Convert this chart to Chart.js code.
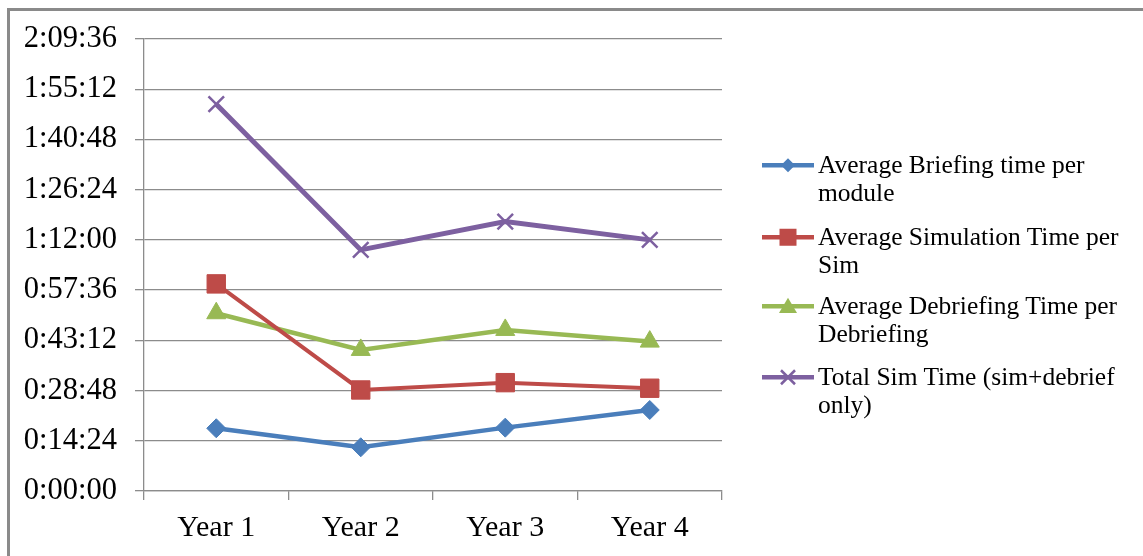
<!DOCTYPE html>
<html>
<head>
<meta charset="utf-8">
<script src="https://cdn.jsdelivr.net/npm/chart.js@4.4.3/dist/chart.umd.min.js"></script>
<style>
    html, body { margin: 0; padding: 0; background: #fff; }
    #wrap { position: relative; width: 1143px; height: 556px; overflow: hidden; }
    #frame {
        position: absolute; left: 7px; top: 8px; width: 1200px; height: 600px;
        border-top: 3px solid #8a8a8a; border-left: 3px solid #8a8a8a;
        box-sizing: border-box;
    }
    #chart { position: absolute; left: 0; top: 0; }
    .legend-item {
        position: absolute; left: 762px; display: flex; align-items: flex-start;
        font-family: 'Liberation Serif', 'Times New Roman', serif;
        font-size: 25.5px; line-height: 28.5px; color: #000;
    }
    .legend-item svg { flex: none; margin-right: 4px; }
</style>
</head>
<body>
<div id="wrap">
    <div id="frame"></div>
    <canvas id="chart" width="1143" height="556"></canvas>
    <div id="legend"></div>
</div>
<script>
    'use strict';

    // Category labels
    const years = ['Year 1', 'Year 2', 'Year 3', 'Year 4'];

    // Values in seconds
    const briefingTime = [1079, 752, 1090, 1394];
    const simulationTime = [3563, 1738, 1864, 1768];
    const debriefingTime = [3058, 2427, 2771, 2570];
    const totalSimTime = [6655, 4148, 4635, 4320];

    // Series names (as shown in the legend, with line breaks)
    const seriesNames = [
        ['Average Briefing time per', 'module'],
        ['Average Simulation Time per', 'Sim'],
        ['Average Debriefing Time per', 'Debriefing'],
        ['Total Sim Time (sim+debrief', 'only)'],
    ];

    // y axis: 0:00:00 to 2:09:36, step 0:14:24
    const yMax = 7776;
    const yStep = 864;

    const colors = ['#4a7ebb', '#be4b48', '#98b954', '#7d60a0'];
    const serif = "'Liberation Serif', 'Times New Roman', serif";
    const gridColor = '#8c8c8c';

    function pad(n) {
        return n.toString().padStart(2, '0');
    }

    function formatTime(sec) {
        const h = Math.floor(sec / 3600);
        const m = Math.floor((sec % 3600) / 60);
        const s = Math.round(sec % 60);
        return `${h}:${pad(m)}:${pad(s)}`;
    }

    const series = [
        { data: briefingTime, pointStyle: 'rectRot', radius: 9.5, width: 4.5 },
        { data: simulationTime, pointStyle: 'rect', radius: 13, width: 4 },
        { data: debriefingTime, pointStyle: 'triangle', radius: 11, width: 4.5 },
        { data: totalSimTime, pointStyle: 'crossRot', radius: 11, width: 5 },
    ];

    const datasets = series.map((s, i) => ({
        label: seriesNames[i].join(' '),
        data: s.data,
        borderColor: colors[i],
        backgroundColor: colors[i],
        borderWidth: s.width,
        pointStyle: s.pointStyle,
        pointRadius: s.radius,
        pointBorderWidth: s.pointStyle === 'crossRot' ? 2.5 : 1,
        pointBackgroundColor: colors[i],
        pointBorderColor: colors[i],
        tension: 0,
        fill: false,
    }));

    // eslint-disable-next-line no-undef
    new Chart(document.getElementById('chart'), {
        type: 'line',
        data: { labels: years, datasets },
        options: {
            responsive: false,
            animation: false,
            devicePixelRatio: 1,
            layout: { padding: { top: 39, right: 421, left: 0, bottom: 0 } },
            plugins: {
                legend: { display: false },
                tooltip: { enabled: false },
            },
            scales: {
                x: {
                    offset: true,
                    afterFit: (scale) => { scale.height = 65; },
                    grid: {
                        offset: true,
                        drawOnChartArea: false,
                        drawTicks: true,
                        tickLength: 9,
                        color: gridColor,
                        lineWidth: 1.3,
                    },
                    border: { display: true, color: gridColor, width: 1.3 },
                    ticks: {
                        color: '#000',
                        padding: 10,
                        font: { family: serif, size: 30 },
                        maxRotation: 0,
                    },
                },
                y: {
                    min: 0,
                    max: yMax,
                    afterFit: (scale) => { scale.width = 144; },
                    grid: {
                        color: gridColor,
                        lineWidth: 1.3,
                        drawTicks: true,
                        tickLength: 9,
                    },
                    border: { display: true, color: gridColor, width: 1.3 },
                    ticks: {
                        stepSize: yStep,
                        color: '#000',
                        padding: 18,
                        font: { family: serif, size: 30.5 },
                        callback: (v) => formatTime(v),
                    },
                },
            },
        },
    });

    // HTML legend so the names can wrap onto two lines
    const legendTops = [165, 237, 306, 377];

    function markerSvg(i) {
        const c = colors[i];
        const line = `<line x1="0" y1="14.25" x2="52" y2="14.25" stroke="${c}" stroke-width="4.5"/>`;
        let mark = '';
        if (i === 0) {
            mark = `<polygon points="26,7.25 33,14.25 26,21.25 19,14.25" fill="${c}"/>`;
        } else if (i === 1) {
            mark = `<rect x="17.5" y="5.75" width="17" height="17" fill="${c}"/>`;
        } else if (i === 2) {
            mark = `<polygon points="26,5.75 35,21 17,21" fill="${c}"/>`;
        } else {
            mark = `<path d="M19,7.25 L33,21.25 M33,7.25 L19,21.25" stroke="${c}" stroke-width="2.5"/>`;
        }
        return `<svg width="52" height="28.5" viewBox="0 0 52 28.5">${line}${mark}</svg>`;
    }

    const legend = document.getElementById('legend');
    seriesNames.forEach((lines, i) => {
        const item = document.createElement('div');
        item.className = 'legend-item';
        item.style.top = `${legendTops[i] - 14.25}px`;
        item.innerHTML = markerSvg(i);
        const text = document.createElement('div');
        lines.forEach((ln) => {
            const row = document.createElement('div');
            row.textContent = ln;
            text.appendChild(row);
        });
        item.appendChild(text);
        legend.appendChild(item);
    });
</script>
</body>
</html>
